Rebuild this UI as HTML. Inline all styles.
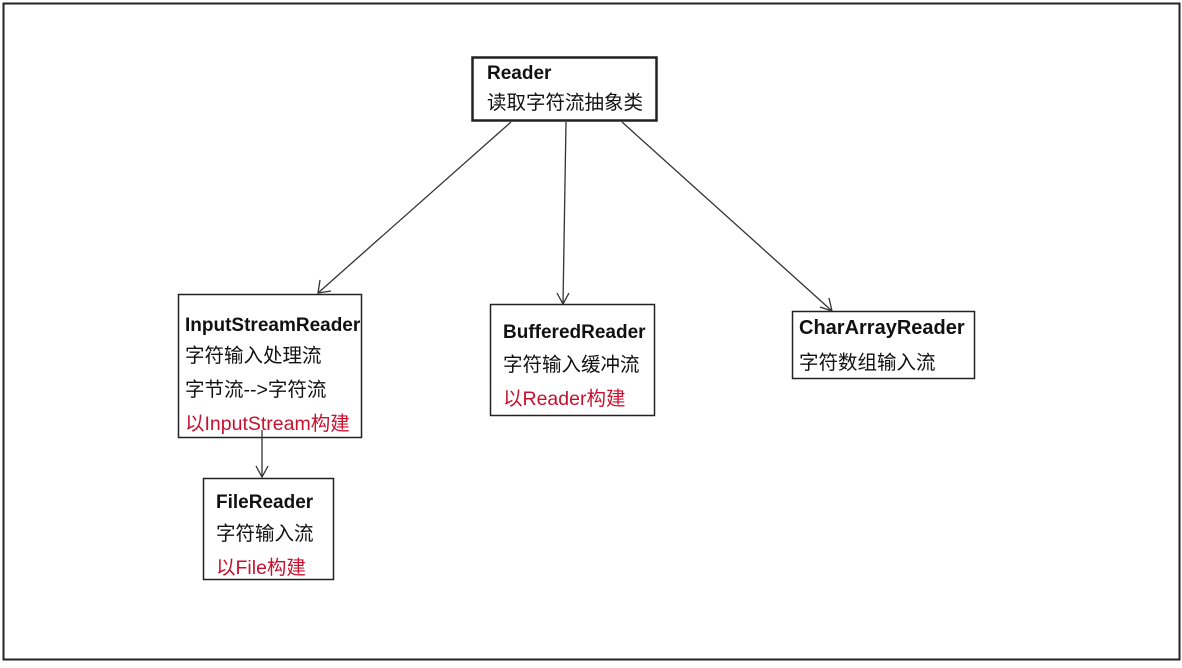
<!DOCTYPE html>
<html><head><meta charset="utf-8"><style>
body{margin:0;background:#fff;}
svg text{font-family:"Liberation Sans","Noto Sans CJK SC",sans-serif;font-size:19.5px;fill:#111;}
.b{font-weight:bold;font-size:19px;}
.r{fill:#c8102e;}
</style></head><body>
<svg width="1182" height="663" viewBox="0 0 1182 663" xmlns="http://www.w3.org/2000/svg">
<rect x="0" y="0" width="1182" height="663" fill="#fff"/>
<rect x="3.5" y="3.5" width="1176" height="656" fill="none" stroke="#222" stroke-width="2"/>
<g fill="#fff" stroke="#222">
<rect x="472.5" y="57.5" width="184" height="63" stroke-width="2.5"/>
<rect x="178.5" y="294.5" width="183" height="143" stroke-width="1.5"/>
<rect x="203.5" y="478.5" width="130" height="101" stroke-width="1.5"/>
<rect x="490.5" y="304.5" width="164" height="111" stroke-width="1.5"/>
<rect x="792.5" y="311.5" width="182" height="67" stroke-width="1.5"/>
</g>
<g stroke="#333" stroke-width="1.3" fill="none">
<line x1="511" y1="122" x2="318" y2="293"/><polyline points="320,280 318,293 331,291"/>
<line x1="566" y1="122" x2="563" y2="304"/><polyline points="557,293 563,304 569,293"/>
<line x1="622" y1="122" x2="832" y2="311"/><polyline points="820,307 832,311 829,298"/>
<line x1="262" y1="430" x2="262" y2="477"/><polyline points="256,466 262,477 268,466"/>
</g>
<text x="487" y="79" class="b">Reader</text>
<text x="487" y="109">读取字符流抽象类</text>
<text x="185" y="331" class="b">InputStreamReader</text>
<text x="185" y="362">字符输入处理流</text>
<text x="185" y="396">字节流--&gt;字符流</text>
<text x="185" y="430" class="r">以InputStream构建</text>
<text x="216" y="508" class="b">FileReader</text>
<text x="216" y="540">字符输入流</text>
<text x="216" y="574" class="r">以File构建</text>
<text x="503" y="338" class="b">BufferedReader</text>
<text x="503" y="371">字符输入缓冲流</text>
<text x="503" y="405" class="r">以Reader构建</text>
<text x="799" y="334" class="b" style="font-size:20px">CharArrayReader</text>
<text x="799" y="369">字符数组输入流</text>
</svg>
</body></html>
